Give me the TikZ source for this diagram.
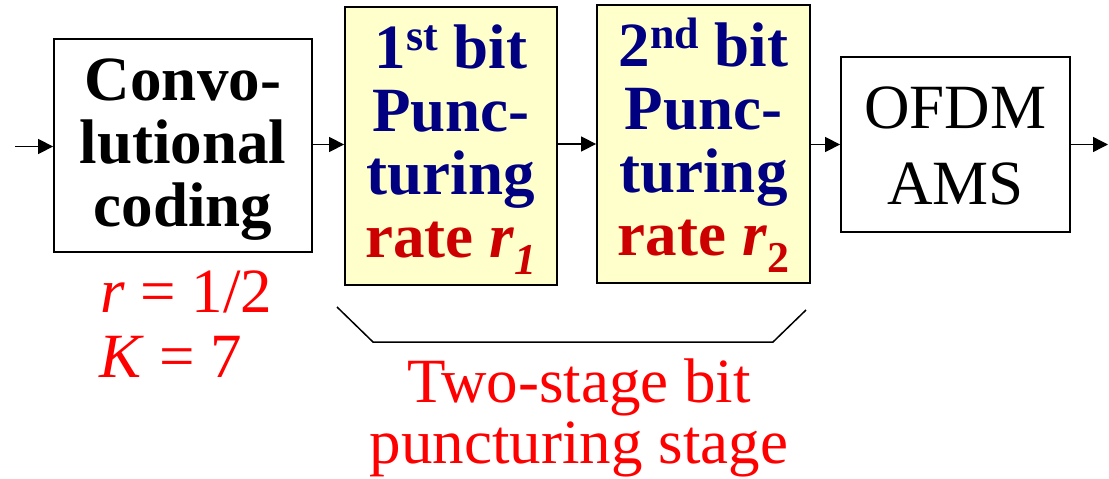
\documentclass[tikz,border=0pt]{standalone}
\usepackage{fontspec}
\setmainfont{Liberation Serif}
\usetikzlibrary{arrows.meta}
\definecolor{navyc}{RGB}{0,0,128}
\definecolor{darkredc}{RGB}{204,0,0}
\definecolor{paleyel}{RGB}{255,255,204}
\newcommand{\topstrutx}[1]{\rule{0pt}{#1pt}}
\newcommand{\botstrutx}[1]{\rule[-#1pt]{0pt}{#1pt}}
\newcommand{\supx}[1]{\raisebox{18pt}{\fontsize{44}{44}\selectfont #1}}
\newcommand{\subx}[2]{\raisebox{-#1pt}{\fontsize{44}{44}\selectfont #2}}
\begin{document}
\begin{tikzpicture}[x=1pt, y=-1pt,
  box/.style={draw, line width=1.8pt, inner sep=0pt, align=center,
    font=\bfseries\fontsize{63}{63}\selectfont},
  ybox/.style={box, fill=paleyel, text=navyc, minimum width=212pt, minimum height=278pt},
  arr/.style={line width=1.4pt, -{Triangle[length=15pt,width=15pt]}},
  lbl/.style={text=red, inner sep=0pt, font=\fontsize{63}{63}\selectfont}]
\useasboundingbox (0,0) rectangle (1109,479);
\fill[white] (0,0) rectangle (1109,479);

\node[box, minimum width=258pt, minimum height=213pt] (conv) at (183,145.5)
  {\topstrutx{50}Convo-\\lutional\\coding\botstrutx{15}};
\node[ybox] (p1) at (451,146)
  {\topstrutx{50}1\supx{st} bit\\Punc-\\turing\\{\color{darkredc}rate \textit{r}\subx{17}{\textit{1}}}\botstrutx{17}};
\node[ybox, minimum width=213pt] (p2) at (703.5,144)
  {\topstrutx{50}2\supx{nd} bit\\Punc-\\turing\\{\color{darkredc}rate \textit{r}\subx{17}{2}}\botstrutx{17}};
\node[box, font=\mdseries\fontsize{63}{76}\selectfont, minimum width=229pt, minimum height=175pt] (ofdm) at (955.5,144.5)
  {\topstrutx{50}OFDM\\AMS\botstrutx{7}};

\coordinate (in) at (15,146.5);
\coordinate (out) at (1108,144.5);
\draw[arr] (in) -- (in -| conv.west);
\draw[arr] (conv.east |- 0,144.5) -- (p1.west |- 0,144.5);
\draw[arr] (p1.east |- p2.west) -- (p2.west);
\draw[arr] (p2.east |- ofdm.west) -- (ofdm.west);
\draw[arr] (ofdm.east) -- (out);

\draw[line width=1.5pt] (337,307) -- (373,342) -- (773,342) -- (806,310);

\node[lbl, anchor=base west] (rt) at (100,312) {\textit{r} = 1/2};
\node[lbl, anchor=base west] (kt) at (99,377) {\textit{K} = 7};
\node[lbl, anchor=base] (two) at (579,402) {Two-stage bit};
\node[lbl, anchor=base] (punc) at (579,463) {puncturing stage};
\end{tikzpicture}
\end{document}
